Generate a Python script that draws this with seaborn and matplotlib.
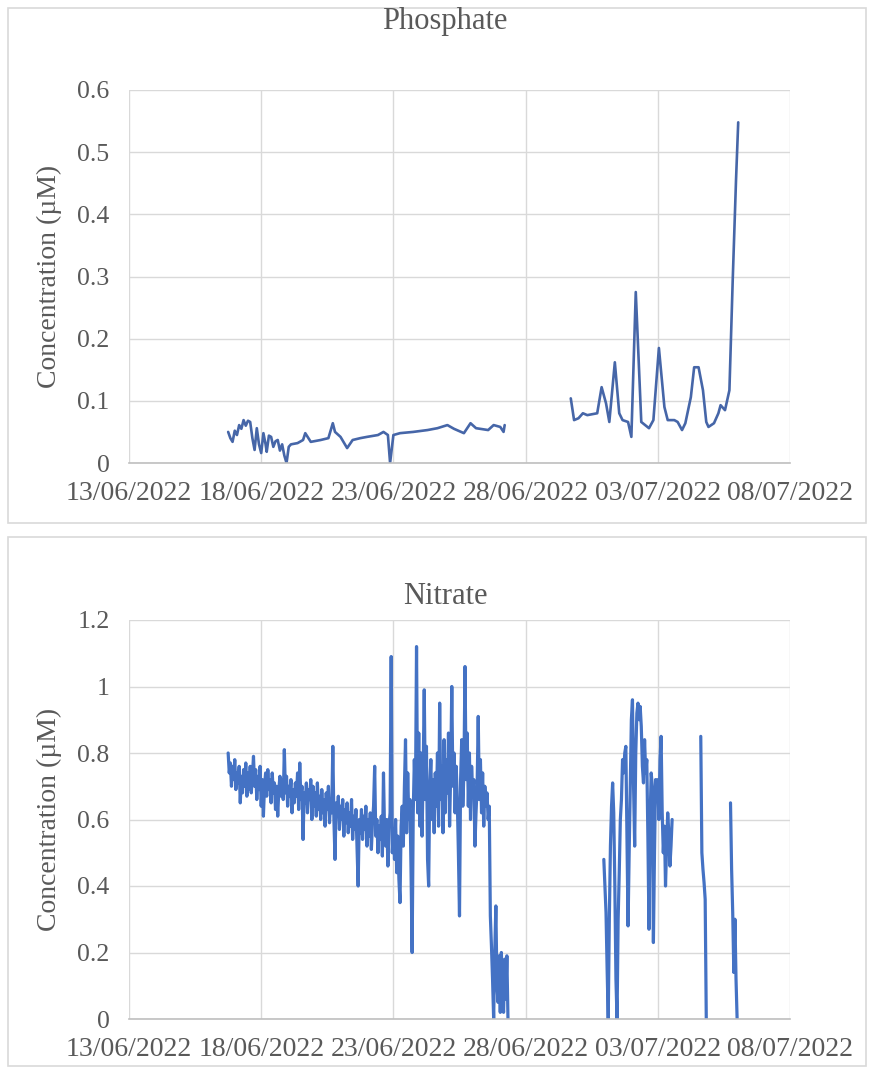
import numpy as np
import pandas as pd
import matplotlib
matplotlib.use("Agg")
import matplotlib.pyplot as plt
from matplotlib.patches import Rectangle
from matplotlib.ticker import FixedLocator, FuncFormatter
import seaborn as sns

# ---------------------------------------------------------------------------
# Data (time in hours since 13/06/2022 00:00)
# ---------------------------------------------------------------------------
start_date = "2022-06-13"
x_tick_labels = ["13/06/2022", "18/06/2022", "23/06/2022",
                 "28/06/2022", "03/07/2022", "08/07/2022"]

phos_hours_1 = [90, 92, 94, 96, 98, 100, 102, 104, 106, 108, 110, 112, 114,
                116, 118, 120, 122, 124, 125, 127, 129, 131, 133, 135, 137,
                139, 141, 143, 145, 147, 153, 158, 160, 165, 174, 181, 185,
                187, 192, 198, 203, 210, 216, 226, 231, 235, 237, 240, 246,
                258, 271, 280, 289, 295, 304, 310, 315, 326, 331, 337, 340, 341]
phos_values_1 = [0.050, 0.040, 0.034, 0.052, 0.045, 0.061, 0.055, 0.069, 0.060,
                 0.068, 0.066, 0.040, 0.021, 0.056, 0.030, 0.016, 0.048, 0.030,
                 0.018, 0.044, 0.042, 0.026, 0.035, 0.037, 0.020, 0.030, 0.012,
                 0.000, 0.026, 0.030, 0.032, 0.037, 0.048, 0.034, 0.037, 0.040,
                 0.064, 0.050, 0.042, 0.024, 0.037, 0.040, 0.042, 0.045, 0.050,
                 0.045, 0.000, 0.045, 0.048, 0.050, 0.053, 0.056, 0.061, 0.055,
                 0.048, 0.064, 0.056, 0.053, 0.061, 0.058, 0.050, 0.061]

phos_hours_2 = [401, 404, 408, 412, 416, 425, 429, 433, 436, 441, 445, 448, 453,
                456, 460, 465, 472, 476, 481, 486, 489, 495, 498, 502, 505, 510,
                513, 517, 521, 524, 526, 531, 535, 537, 541, 545, 548, 551, 553]
phos_values_2 = [0.104, 0.069, 0.072, 0.080, 0.077, 0.080, 0.122, 0.096, 0.066,
                 0.162, 0.080, 0.069, 0.066, 0.042, 0.275, 0.066, 0.056, 0.069,
                 0.185, 0.090, 0.069, 0.069, 0.066, 0.053, 0.064, 0.106, 0.154,
                 0.154, 0.117, 0.066, 0.058, 0.064, 0.080, 0.093, 0.085, 0.117,
                 0.294, 0.455, 0.548]

# Nitrate: hourly readings, four separate runs
nitrate_step_hours = 1
nit_start_1 = 90
nit_values_1 = [
    0.80, 0.74, 0.77, 0.70, 0.76, 0.72, 0.78, 0.69, 0.74, 0.71, 0.76,
    0.65, 0.73, 0.68, 0.75, 0.70, 0.77, 0.67, 0.74, 0.69, 0.76, 0.68, 0.73,
    0.79, 0.70, 0.75, 0.66, 0.73, 0.69, 0.76, 0.64, 0.72, 0.61, 0.70, 0.74,
    0.67, 0.75, 0.69, 0.72, 0.65, 0.74, 0.68, 0.71, 0.63, 0.70, 0.61, 0.69,
    0.73, 0.67, 0.72, 0.66, 0.81, 0.68, 0.73, 0.64, 0.70, 0.67, 0.72, 0.62,
    0.69, 0.65, 0.71, 0.67, 0.74, 0.63, 0.77, 0.66, 0.70, 0.54, 0.68, 0.65,
    0.71, 0.62, 0.69, 0.66, 0.72, 0.60, 0.70, 0.64, 0.68, 0.61, 0.71, 0.63,
    0.67, 0.60, 0.69, 0.62, 0.66, 0.58, 0.68, 0.63, 0.70, 0.59, 0.66, 0.62,
    0.82, 0.60, 0.48, 0.65, 0.61, 0.67, 0.57, 0.64, 0.60, 0.66, 0.55, 0.63,
    0.59, 0.65, 0.56, 0.62, 0.58, 0.66, 0.54, 0.61, 0.57, 0.63, 0.52, 0.40,
    0.60, 0.56, 0.63, 0.54, 0.61, 0.57, 0.64, 0.52, 0.60, 0.55, 0.62, 0.51,
    0.59, 0.64, 0.76, 0.55, 0.60, 0.50, 0.58, 0.54, 0.61, 0.49, 0.74, 0.56,
    0.52, 0.60, 0.46, 0.58, 0.62, 1.09, 0.50, 0.57, 0.48, 0.60, 0.44, 0.55,
    0.42, 0.35, 0.58, 0.64, 0.52, 0.70, 0.84, 0.56, 0.74, 0.60, 0.66, 0.45,
    0.20, 0.62, 0.78, 0.66, 1.12, 0.62, 0.86, 0.58, 0.80, 0.55, 0.74, 0.99,
    0.66, 0.82, 0.48, 0.40, 0.70, 0.78, 0.60, 0.72, 0.56, 0.74, 0.64, 0.80,
    0.58, 0.95, 0.66, 0.76, 0.56, 0.84, 0.62, 0.78, 0.68, 0.86, 0.58, 0.74,
    1.00, 0.70, 0.80, 0.62, 0.76, 0.66, 0.50, 0.31, 0.72, 0.84, 0.64, 0.74,
    1.06, 0.72, 0.86, 0.64, 0.80, 0.60, 0.76, 0.68, 0.72, 0.52, 0.62, 0.70,
    0.91, 0.66, 0.78, 0.62, 0.74, 0.58, 0.70, 0.64, 0.68, 0.60, 0.64, 0.31,
    0.22, 0.12, 0.00, 0.20, 0.34, 0.10, 0.05, 0.19, 0.02, 0.20, 0.08, 0.02,
    0.18, 0.06, 0.19, 0.00]
nit_start_2 = 431
nit_values_2 = [
    0.48, 0.40, 0.32, 0.15, 0.00, 0.30, 0.52, 0.64, 0.71, 0.62, 0.40, 0.12,
    0.00, 0.30, 0.44, 0.60, 0.66, 0.78, 0.74, 0.80, 0.82, 0.55, 0.28, 0.50,
    0.70, 0.90, 0.96, 0.70, 0.52, 0.80, 0.92, 0.95, 0.90, 0.94, 0.88, 0.76,
    0.71, 0.84, 0.74, 0.78, 0.55, 0.27, 0.60, 0.74, 0.70, 0.23, 0.50, 0.72,
    0.66, 0.72, 0.60, 0.78, 0.85, 0.62, 0.50, 0.58, 0.40, 0.52, 0.62, 0.56,
    0.46, 0.52, 0.60]
nit_start_3 = 519
nit_values_3 = [0.85, 0.50, 0.45, 0.41, 0.36, 0.00]
nit_start_4 = 546
nit_values_4 = [0.65, 0.45, 0.32, 0.14, 0.30, 0.12, 0.00]


# ---------------------------------------------------------------------------
# Build long-form tables
# ---------------------------------------------------------------------------
base = pd.Timestamp(start_date)


def to_frame(runs):
    parts = []
    for run_id, (hours, values) in enumerate(runs):
        parts.append(pd.DataFrame({
            "time": base + pd.to_timedelta(np.asarray(hours, dtype=float), unit="h"),
            "value": values,
            "run": run_id,
        }))
    return pd.concat(parts, ignore_index=True)


def regular_hours(start, values):
    return [start + nitrate_step_hours * i for i in range(len(values))]


phos_df = to_frame([(phos_hours_1, phos_values_1),
                    (phos_hours_2, phos_values_2)])
nit_df = to_frame([(regular_hours(nit_start_1, nit_values_1), nit_values_1),
                   (regular_hours(nit_start_2, nit_values_2), nit_values_2),
                   (regular_hours(nit_start_3, nit_values_3), nit_values_3),
                   (regular_hours(nit_start_4, nit_values_4), nit_values_4)])

tick_dates = pd.to_datetime(x_tick_labels, format="%d/%m/%Y")

# ---------------------------------------------------------------------------
# Figure
# ---------------------------------------------------------------------------
sns.set_theme(style="white")
plt.rcParams["font.family"] = ["Liberation Serif", "DejaVu Serif"]

W, H = 869, 1070
fig = plt.figure(figsize=(W / 100, H / 100), dpi=100)
fig.patch.set_facecolor("white")

text_grey = "#595959"
grid_grey = "#D9D9D9"
axis_grey = "#BFBFBF"


def px_box(left, top, right, bottom):
    return [left / W, 1 - bottom / H, (right - left) / W, (bottom - top) / H]


# chart frames
for (l, t, r, b) in [(8, 8, 866, 523), (8, 537, 866, 1066)]:
    fig.patches.append(Rectangle((l / W, 1 - b / H), (r - l) / W, (b - t) / H,
                                 transform=fig.transFigure, fill=False,
                                 edgecolor=grid_grey, linewidth=1.2))


def style_axis(ax, ymax, ystep, title, title_y):
    ax.set_xlim(tick_dates[0], tick_dates[-1])
    ax.set_ylim(0, ymax)
    ax.xaxis.set_major_locator(FixedLocator(matplotlib.dates.date2num(tick_dates)))
    ax.set_xticklabels(x_tick_labels)
    yt = np.round(np.arange(0, ymax + ystep / 2, ystep), 3)
    ax.set_yticks(yt)
    ax.yaxis.set_major_formatter(FuncFormatter(lambda v, p: f"{v:g}"))
    ax.grid(True, color=grid_grey, linewidth=1.0)
    ax.set_axisbelow(True)
    for side in ["top", "right", "left"]:
        ax.spines[side].set_visible(False)
    ax.spines["bottom"].set_color(axis_grey)
    ax.spines["bottom"].set_linewidth(1.2)
    ax.tick_params(axis="both", length=0, colors=text_grey)
    ax.tick_params(axis="x", pad=13, labelsize=20)
    ax.tick_params(axis="y", pad=14, labelsize=18.5)
    ax.set_xlabel("")
    ax.set_ylabel("Concentration (µM)", fontsize=20, color=text_grey, labelpad=11)
    fig.text(445 / W, 1 - title_y / H, title, ha="center", va="center",
             fontsize=22, color=text_grey)


ax1 = fig.add_axes(px_box(129, 90, 790, 463))
sns.lineplot(data=phos_df, x="time", y="value", units="run", estimator=None,
             color="#4666A8", linewidth=1.9, ax=ax1)
style_axis(ax1, 0.6, 0.1, "Phosphate", 22)

ax2 = fig.add_axes(px_box(129, 620, 790, 1019))
sns.lineplot(data=nit_df, x="time", y="value", units="run", estimator=None,
             color="#4472C4", linewidth=2.3, ax=ax2)
style_axis(ax2, 1.2, 0.2, "Nitrate", 597)

fig.savefig("out.png", dpi=100, facecolor="white")
